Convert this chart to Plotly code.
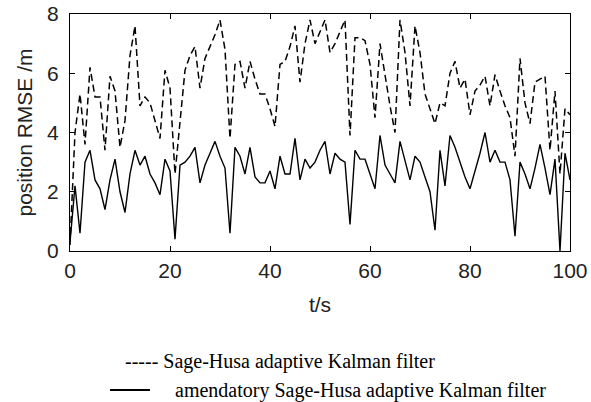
import plotly.graph_objects as go

t = list(range(0, 101))

sage_husa = [0.2, 4.0, 5.3, 3.6, 6.2, 5.2, 5.2, 3.4, 5.9, 5.4,
             3.5, 4.4, 6.6, 7.6, 4.9, 5.2, 5.0, 4.4, 3.8, 6.1,
             5.5, 2.6, 4.4, 6.1, 6.6, 6.9, 5.5, 6.5, 6.9, 7.3,
             7.8, 6.8, 3.8, 6.3, 6.4, 5.5, 6.4, 5.8, 5.3, 5.3,
             4.8, 4.2, 6.3, 6.4, 6.9, 7.6, 5.7, 7.0, 7.8, 7.0,
             7.4, 7.8, 6.7, 7.0, 7.4, 7.8, 3.9, 7.2, 7.2, 7.1,
             6.3, 4.5, 7.0, 5.9, 4.9, 4.0, 7.8, 6.7, 4.9, 7.6,
             6.7, 5.3, 4.8, 4.3, 5.0, 4.9, 6.0, 6.4, 5.5, 5.8,
             4.6, 5.4, 5.6, 5.9, 4.9, 5.95, 5.4, 4.9, 4.5, 3.2,
             6.5, 5.0, 4.3, 5.7, 5.8, 5.9, 3.4, 5.4, 2.6, 4.8,
             4.6]

amended = [0.3, 2.2, 0.6, 3.0, 3.4, 2.4, 2.1, 1.4, 2.4, 3.1,
           2.0, 1.3, 2.6, 3.4, 2.9, 3.2, 2.6, 2.3, 1.9, 3.1,
           2.7, 0.4, 2.9, 3.0, 3.2, 3.5, 2.3, 2.9, 3.3, 3.7,
           3.2, 2.8, 0.6, 3.5, 3.2, 2.6, 3.5, 2.5, 2.3, 2.3,
           2.7, 2.1, 3.2, 2.6, 2.6, 3.8, 2.4, 3.1, 2.8, 3.0,
           3.4, 3.7, 2.6, 3.3, 3.1, 3.0, 0.9, 3.4, 3.1, 3.1,
           2.6, 2.1, 3.9, 2.9, 2.6, 2.3, 3.7, 3.0, 2.4, 3.2,
           3.0, 2.5, 2.0, 0.7, 3.4, 2.2, 3.9, 3.5, 3.0, 2.5,
           2.1, 2.7, 3.3, 4.0, 3.0, 3.4, 3.0, 3.0, 2.4, 0.5,
           3.0, 2.6, 2.1, 2.8, 3.6, 2.8, 1.9, 3.1, 0.0, 3.3,
           2.4]

x_ticks = [0, 20, 40, 60, 80, 100]
y_ticks = [0, 2, 4, 6, 8]

legend_dashed = "----- Sage-Husa adaptive Kalman filter"
legend_solid = "amendatory Sage-Husa adaptive Kalman filter"

fig = go.Figure()
fig.add_trace(go.Scatter(x=t, y=sage_husa, mode="lines",
                         line=dict(color="black", width=1.5, dash="7px,4px"),
                         name="Sage-Husa adaptive Kalman filter", showlegend=False))
fig.add_trace(go.Scatter(x=t, y=amended, mode="lines",
                         line=dict(color="black", width=1.4),
                         name="amendatory Sage-Husa adaptive Kalman filter", showlegend=False))

axis_font = dict(family="Liberation Sans, Arial, sans-serif", size=21, color="#222")

fig.update_layout(
    width=591, height=402,
    margin=dict(l=70, r=21, t=14, b=151),
    paper_bgcolor="white", plot_bgcolor="white",
    hovermode=False,
    xaxis=dict(range=[0, 100], tickvals=x_ticks, ticks="inside", ticklen=5,
               tickcolor="black", showline=True, linecolor="black", linewidth=1,
               mirror="ticks", showgrid=False, zeroline=False, automargin=False,
               tickfont=axis_font, ticklabelstandoff=1, ticklabeloverflow="allow",
               title=dict(text="t/s", font=axis_font, standoff=16)),
    yaxis=dict(range=[0, 8], tickvals=y_ticks, ticks="inside", ticklen=5,
               tickcolor="black", showline=True, linecolor="black", linewidth=1,
               mirror="ticks", showgrid=False, zeroline=False, automargin=False,
               tickfont=axis_font, ticklabelstandoff=6, ticklabeloverflow="allow",
               title=dict(text="position RMSE /m", font=axis_font, standoff=8)),
)

legend_font = dict(family="Liberation Serif, Times New Roman, serif", size=20, color="black")

fig.add_annotation(x=0.106, y=-0.468, xref="paper", yref="paper",
                   text=legend_dashed, showarrow=False, xanchor="left",
                   yanchor="middle", font=legend_font)
fig.add_annotation(x=0.205, y=-0.5865, xref="paper", yref="paper",
                   text=legend_solid, showarrow=False, xanchor="left",
                   yanchor="middle", font=legend_font)
fig.add_shape(type="line", xref="paper", yref="paper",
              x0=0.08, x1=0.16, y0=-0.5865, y1=-0.5865,
              line=dict(color="black", width=2))

fig.write_html("out.html", config={"displayModeBar": False},
               post_script="document.body.style.margin='0';document.body.style.padding='0';")
